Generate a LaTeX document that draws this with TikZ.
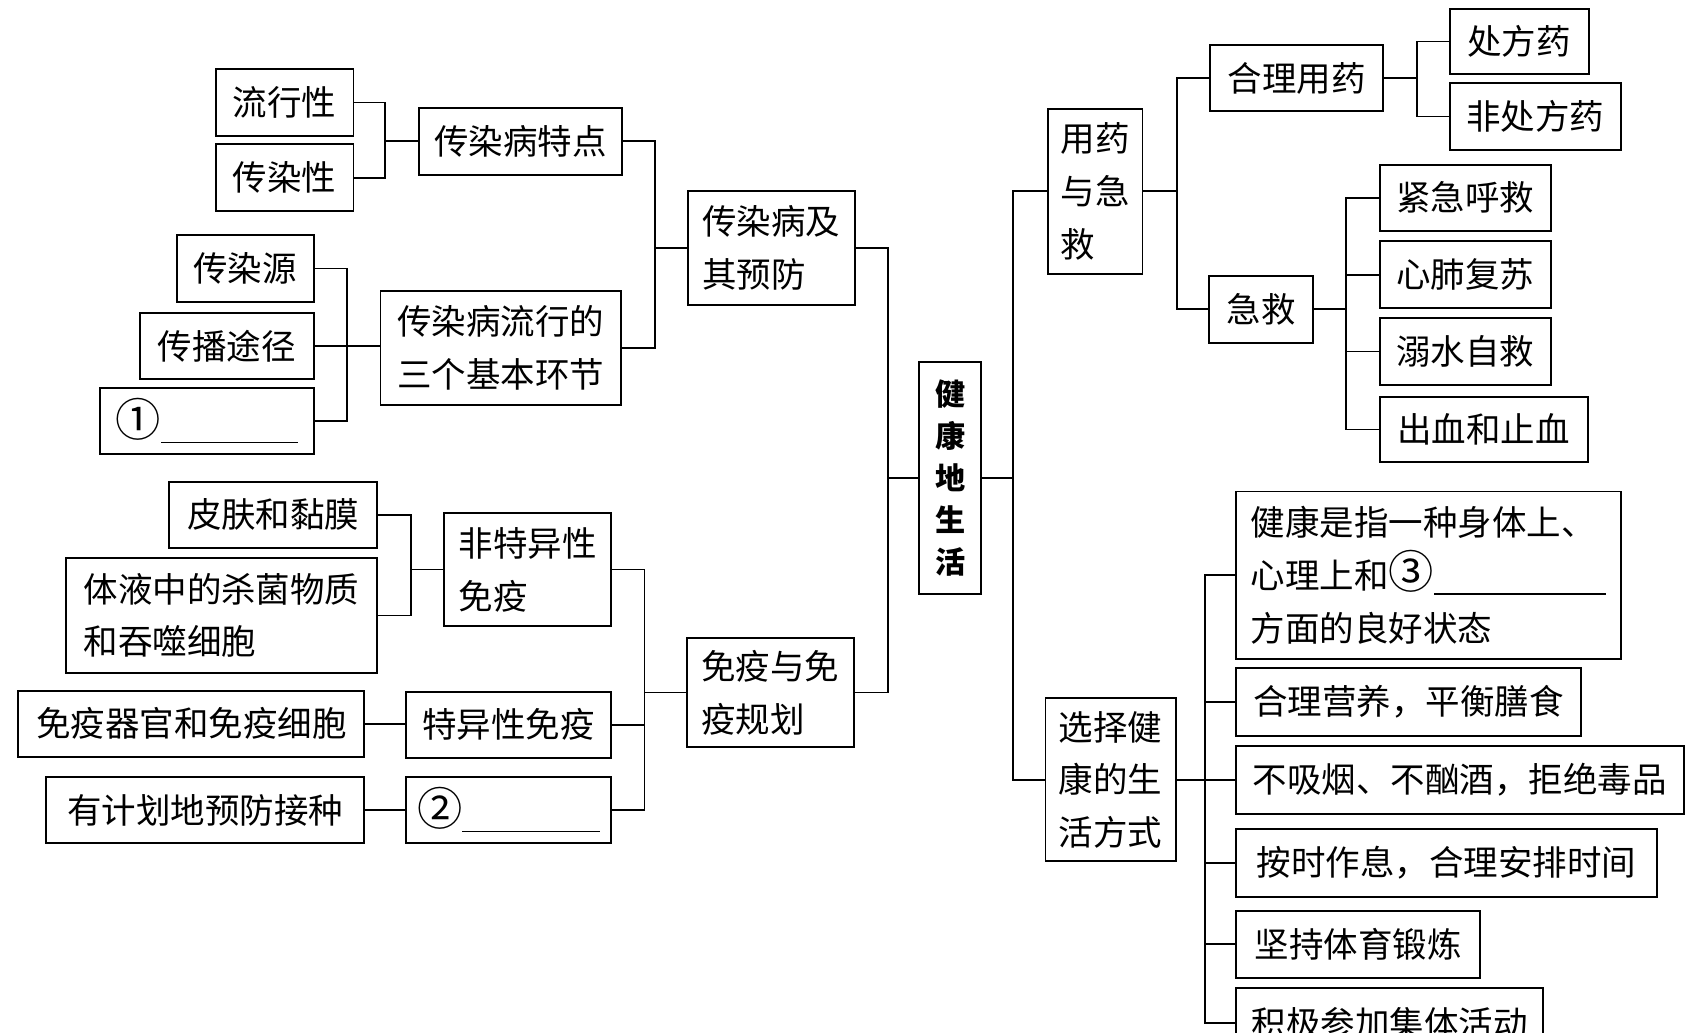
\documentclass[tikz,border=0pt]{standalone}
\usepackage{fontspec}
\newfontfamily\cjk{Noto Sans CJK SC}
\tikzset{
  bx/.style={draw, line width=0.9pt, inner sep=0pt, align=left,
    font=\cjk\fontsize{16pt}{24.5pt}\selectfont},
  rootbx/.style={draw, line width=0.9pt, inner sep=0pt, align=center,
    font=\cjk\bfseries\fontsize{14pt}{19.5pt}\selectfont},
  ln/.style={line width=0.8pt},
}
\newcommand\mkbox[6]{\node[bx, minimum width={(#4-#2)*0.5pt}, minimum height={(#5-#3)*0.5pt}] (#1) at ({(#2+#4)/2},{(#3+#5)/2}) {#6};}
\newcommand\blank[1]{\rule[-3pt]{#1}{0.7pt}}
\newcommand\circnum[1]{{\fontsize{21pt}{24.5pt}\selectfont #1}}
\begin{document}
\begin{tikzpicture}[x=0.5pt,y=-0.5pt]
\useasboundingbox (0,0) rectangle (1568,958);
\clip (0,0) rectangle (1568,958);
% left upper
\mkbox{lxx}{200}{64}{328}{126}{流行性}
\mkbox{crx}{200}{134}{328}{196}{传染性}
\mkbox{tdd}{389}{100}{577}{162}{传染病特点}
\mkbox{cry}{164}{218}{291}{280}{传染源}
\mkbox{cbt}{130}{290}{291}{352}{传播途径}
\mkbox{qa}{93}{360}{291}{421}{\circnum{①}\blank{63.5pt}}
\mkbox{lxh}{353}{270}{576}{376}{传染病流行的\\三个基本环节}
\mkbox{crb}{638}{177}{793}{283}{传染病及\\其预防}
% root
\node[rootbx, minimum width=28.5pt, minimum height=107.5pt] (root) at (881.5,443.5) {健\\康\\地\\生\\活};
% left lower
\mkbox{pf}{157}{447}{350}{508}{皮肤和黏膜}
\mkbox{ty}{61}{518}{350}{624}{体液中的杀菌物质\\和吞噬细胞}
\mkbox{fty}{412}{476}{567}{581}{非特异性\\免疫}
\mkbox{myq}{17}{641}{338}{702}{免疫器官和免疫细胞}
\mkbox{tyx}{377}{642}{567}{703}{特异性免疫}
\mkbox{yjh}{43}{721}{338}{782}{有计划地预防接种}
\mkbox{qb}{377}{721}{567}{782}{\circnum{②}\blank{64pt}}
\mkbox{myg}{637}{592}{792}{693}{免疫与免\\疫规划}
% right upper
\mkbox{yyj}{972}{101}{1060}{254}{用药\\与急\\救}
\mkbox{hly}{1123}{42}{1283}{103}{合理用药}
\mkbox{cfy}{1345}{8}{1474}{69}{处方药}
\mkbox{fcf}{1345}{77}{1504}{139}{非处方药}
\mkbox{jj}{1122}{256}{1218}{318}{急救}
\mkbox{jjh}{1280}{153}{1439}{214}{紧急呼救}
\mkbox{xfs}{1280}{224}{1439}{286}{心肺复苏}
\mkbox{nsz}{1280}{295}{1439}{357}{溺水自救}
\mkbox{cxz}{1280}{368}{1473}{429}{出血和止血}
% right lower
\mkbox{xz}{970}{648}{1091}{799}{选择健\\康的生\\活方式}
\mkbox{jks}{1147}{456}{1504}{611}{健康是指一种身体上、\\心理上和\circnum{③}\blank{80pt}\\方面的良好状态}
\mkbox{hyy}{1147}{620}{1467}{683}{合理营养，平衡膳食}
\mkbox{bxy}{1147}{692}{1562}{755}{不吸烟、不酗酒，拒绝毒品}
\mkbox{asz}{1147}{769}{1537}{832}{按时作息，合理安排时间}
\mkbox{jct}{1147}{845}{1373}{907}{坚持体育锻炼}
\mkbox{jjc}{1147}{917}{1432}{981}{积极参加集体活动}
% junction x positions
\coordinate (j1) at (357,0);
\coordinate (j2) at (608,0);
\coordinate (j3) at (322,0);
\coordinate (j4) at (824,0);
\coordinate (j5) at (381,0);
\coordinate (j6) at (598,0);
\coordinate (j7) at (940,0);
\coordinate (j8) at (1092,0);
\coordinate (j9) at (1315,0);
\coordinate (j10) at (1249,0);
\coordinate (j11) at (1118,0);
% left connectors
\draw[ln] (lxx.east) -- (lxx.east -| j1) |- (crx.east);
\draw[ln] (j1 |- tdd.west) -- (tdd.west);
\draw[ln] (cry.east) -- (cry.east -| j3) |- (qa.east);
\draw[ln] (cbt.east) -- (cbt.east -| lxh.west);
\draw[ln] (tdd.east) -- (tdd.east -| j2) |- (lxh.east);
\draw[ln] (j2 |- crb.west) -- (crb.west);
\draw[ln] (pf.east) -- (pf.east -| j5) |- (ty.east);
\draw[ln] (j5 |- fty.west) -- (fty.west);
\draw[ln] (myq.east) -- (myq.east -| tyx.west);
\draw[ln] (yjh.east) -- (yjh.east -| qb.west);
\draw[ln] (fty.east) -- (fty.east -| j6) |- (qb.east);
\draw[ln] (tyx.east) -- (tyx.east -| j6);
\draw[ln] (j6 |- myg.west) -- (myg.west);
\draw[ln] (crb.east) -- (crb.east -| j4) |- (myg.east);
\draw[ln] (j4 |- root.west) -- (root.west);
% right connectors
\draw[ln] (root.east) -- (root.east -| j7);
\draw[ln] (yyj.west) -- (yyj.west -| j7) |- (xz.west);
\draw[ln] (yyj.east) -- (yyj.east -| j8);
\draw[ln] (hly.west) -- (hly.west -| j8) |- (jj.west);
\draw[ln] (hly.east) -- (hly.east -| j9);
\draw[ln] (cfy.west) -- (cfy.west -| j9) |- (fcf.west);
\draw[ln] (jj.east) -- (jj.east -| j10);
\draw[ln] (jjh.west) -- (jjh.west -| j10) |- (cxz.west);
\draw[ln] (xfs.west) -- (xfs.west -| j10);
\draw[ln] (nsz.west) -- (nsz.west -| j10);
\draw[ln] (xz.east) -- (xz.east -| j11);
\draw[ln] (jks.west) -- (jks.west -| j11) |- (jjc.west);
\draw[ln] (hyy.west) -- (hyy.west -| j11);
\draw[ln] (bxy.west) -- (bxy.west -| j11);
\draw[ln] (asz.west) -- (asz.west -| j11);
\draw[ln] (jct.west) -- (jct.west -| j11);
\end{tikzpicture}
\end{document}
